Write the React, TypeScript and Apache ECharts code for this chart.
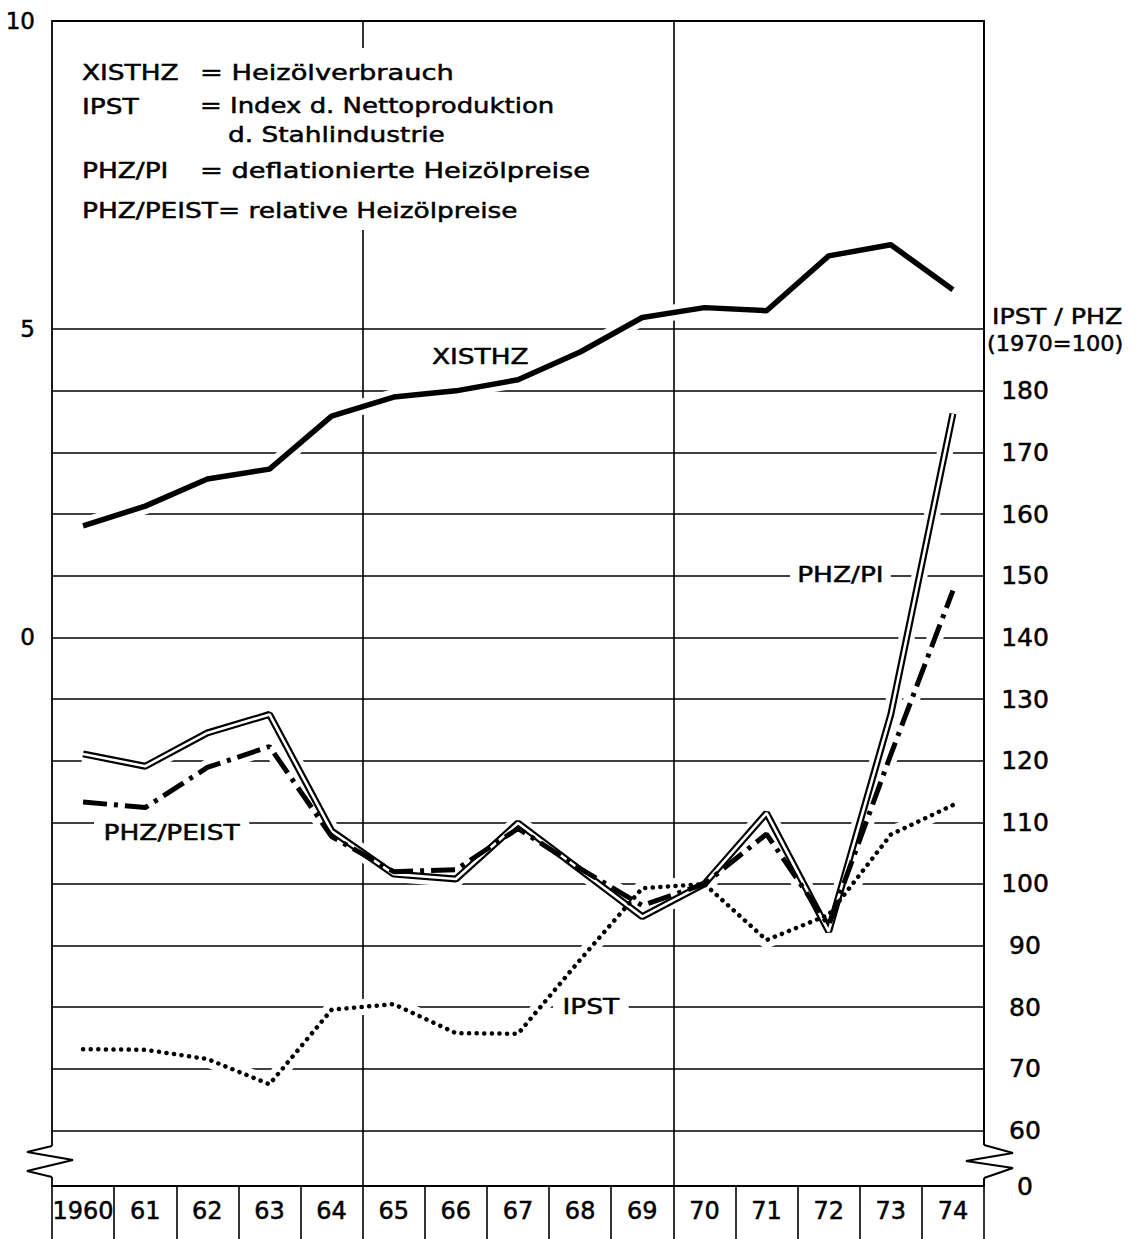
import React, { useEffect, useRef } from 'react';
import * as echarts from 'echarts';

// ---- data ----
const years = ['1960', '61', '62', '63', '64', '65', '66', '67', '68', '69', '70', '71', '72', '73', '74'];
// XISTHZ, left axis units
const xisthz = [1.81, 2.13, 2.57, 2.73, 3.59, 3.9, 4.0, 4.18, 4.63, 5.19, 5.35, 5.3, 6.19, 6.37, 5.64];
// index series, right axis units (1970 = 100)
const phzPi = [121.1, 119.1, 124.5, 127.5, 108.6, 101.6, 100.8, 109.9, 102.3, 94.7, 100, 111.5, 92.3, 127.5, 176.3];
const phzPeist = [113.3, 112.4, 118.9, 122.3, 107.7, 102.0, 102.3, 109.0, 102.5, 96.5, 100, 108.1, 93.3, 121.0, 147.6];
const ipst = [73.2, 73.1, 71.6, 67.5, 79.6, 80.5, 75.8, 75.7, 87.7, 99.3, 100, 90.9, 95.0, 108.0, 112.8];

const leftTicks = [0, 5, 10];
const rightTicks = [60, 70, 80, 90, 100, 110, 120, 130, 140, 150, 160, 170, 180];
const rightBreakLabel = '0';

const FONT = 'DejaVu Sans';
const W = 1137;
const H = 1239;
const GL = 52;
const GR = 984;
const GT = 21;
const GB = 1186;
const YMIN = 51;
const YMAX = 240;
const OFFSET = 140; // right = 140 + 10 * left
const FACTOR = 10;
const yPix = (v: number) => GT + ((YMAX - v) * (GB - GT)) / (YMAX - YMIN);

export default function App() {
  const ref = useRef<HTMLDivElement>(null);
  useEffect(() => {
    document.body.style.margin = '0';
    const chart = echarts.init(ref.current as HTMLDivElement, null, { renderer: 'svg' });

    const txt = (t: string, x: number, y: number, sx = 1.2, extra: any = {}) => ({
      type: 'text',
      x,
      y,
      scaleX: sx,
      z: 20,
      silent: true,
      style: {
        text: t,
        fontFamily: FONT,
        fontSize: 22,
        fill: '#000',
        stroke: '#000',
        lineWidth: 0.5,
        align: 'left',
        verticalAlign: 'middle',
        ...extra,
      },
    });

    const labelStyle = {
      fontFamily: FONT,
      color: '#000',
      textBorderColor: '#000',
      textBorderWidth: 0.5,
    };

    const base: any = { type: 'line', symbol: 'none', silent: true, xAxisIndex: 0 };
    const under = (data: number[], yi: number) => ({
      ...base,
      data,
      yAxisIndex: yi,
      z: 2,
      lineStyle: { color: '#fff', width: 16, join: 'round' },
    });

    const option: any = {
      animation: false,
      backgroundColor: '#fff',
      grid: [
        {
          left: GL,
          top: GT,
          width: GR - GL,
          height: GB - GT,
          show: true,
          borderColor: '#000',
          borderWidth: 1.8,
          containLabel: false,
          outerBoundsMode: 'none',
        },
        {
          left: GL,
          top: yPix(190),
          width: GR - GL,
          height: yPix(60) - yPix(190),
          containLabel: false,
          outerBoundsMode: 'none',
        },
      ],
      xAxis: [
        {
          type: 'category',
          gridIndex: 0,
          data: years,
          boundaryGap: true,
          position: 'bottom',
          axisLine: { show: false, onZero: false },
          axisTick: { show: true, interval: 0, length: 53, inside: false, lineStyle: { color: '#000', width: 1.6 } },
          axisLabel: { interval: 0, fontSize: 24, margin: 13, ...labelStyle },
          splitLine: {
            show: true,
            interval: (i: number) => i === 5 || i === 10,
            lineStyle: { color: '#000', width: 1.6 },
          },
        },
        { type: 'value', gridIndex: 1, min: 0, max: 1, show: false },
      ],
      yAxis: [
        {
          type: 'value',
          gridIndex: 0,
          position: 'right',
          min: YMIN,
          max: YMAX,
          axisLine: { show: false },
          axisTick: { show: false },
          splitLine: { show: false },
          axisLabel: {
            customValues: [YMIN, ...rightTicks],
            formatter: (v: number) => (v < 55 ? rightBreakLabel : String(v)),
            fontSize: 25,
            margin: 41,
            align: 'center',
            ...labelStyle,
          },
        },
        {
          type: 'value',
          gridIndex: 0,
          position: 'left',
          min: (YMIN - OFFSET) / FACTOR,
          max: (YMAX - OFFSET) / FACTOR,
          axisLine: { show: false },
          axisTick: { show: false },
          splitLine: { show: false },
          axisLabel: {
            customValues: leftTicks,
            formatter: (v: number) => String(v),
            fontSize: 23,
            margin: 17,
            ...labelStyle,
          },
        },
        {
          type: 'value',
          gridIndex: 1,
          min: 60,
          max: 190,
          interval: 10,
          axisLine: { show: false },
          axisTick: { show: false },
          axisLabel: { show: false },
          splitLine: { show: true, lineStyle: { color: '#000', width: 1.6 } },
        },
      ],
      series: [
        under(xisthz, 1),
        under(phzPi, 0),
        under(phzPeist, 0),
        under(ipst, 0),
        { ...base, name: 'XISTHZ', data: xisthz, yAxisIndex: 1, z: 3, lineStyle: { color: '#000', width: 5.5 } },
        { ...base, name: 'PHZ/PI', data: phzPi, yAxisIndex: 0, z: 3, lineStyle: { color: '#000', width: 7 } },
        { ...base, name: 'PHZ/PI inner', data: phzPi, yAxisIndex: 0, z: 4, lineStyle: { color: '#fff', width: 2.6 } },
        {
          ...base,
          name: 'PHZ/PEIST',
          data: phzPeist,
          yAxisIndex: 0,
          z: 5,
          lineStyle: { color: '#000', width: 5, type: [24, 7, 4, 7] },
        },
        {
          ...base,
          name: 'IPST',
          data: ipst,
          yAxisIndex: 0,
          z: 5,
          lineStyle: { color: '#000', width: 4.5, type: [0.1, 7.5], cap: 'round' },
        },
      ],
      graphic: [
        // blank background behind the key
        { type: 'rect', z: 1, silent: true, shape: { x: 60, y: 48, width: 560, height: 182 }, style: { fill: '#fff' } },
        // axis breaks
        { type: 'rect', z: 6, silent: true, shape: { x: 48, y: 1146, width: 8, height: 31 }, style: { fill: '#fff' } },
        {
          type: 'polyline',
          z: 7,
          silent: true,
          shape: { points: [[52, 1146], [27, 1152], [73, 1160], [27, 1171], [52, 1177]] },
          style: { stroke: '#000', lineWidth: 2, fill: null },
        },
        { type: 'rect', z: 6, silent: true, shape: { x: 980, y: 1145, width: 8, height: 33 }, style: { fill: '#fff' } },
        {
          type: 'polyline',
          z: 7,
          silent: true,
          shape: { points: [[984, 1145], [1013, 1153], [966, 1161], [1013, 1168], [984, 1178]] },
          style: { stroke: '#000', lineWidth: 2, fill: null },
        },
        // key
        txt('XISTHZ', 82, 72),
        txt('= Heizölverbrauch', 200, 72, 1.24),
        txt('IPST', 82, 106),
        txt('= Index d. Nettoproduktion', 200, 106, 1.18),
        txt('d. Stahlindustrie', 228, 134),
        txt('PHZ/PI', 82, 170),
        txt('= deflationierte Heizölpreise', 200, 170, 1.24),
        txt('PHZ/PEIST= relative Heizölpreise', 82, 210),
        // right axis title
        txt('IPST / PHZ', 992, 317, 1.15),
        txt('(1970=100)', 987, 343, 1.02),
        // series labels
        txt('XISTHZ', 432, 356),
        txt('PHZ/PI', 790, 574, 1.2, { backgroundColor: '#fff', padding: [2, 6, 2, 6] }),
        txt('PHZ/PEIST', 94, 832, 1.2, { backgroundColor: '#fff', padding: [2, 8, 2, 8] }),
        txt('IPST', 553, 1006, 1.2, { backgroundColor: '#fff', padding: [2, 8, 2, 8] }),
      ],
    };

    chart.setOption(option);
    return () => chart.dispose();
  }, []);
  return <div ref={ref} style={{ position: 'absolute', left: 0, top: 0, width: W, height: H }} />;
}
